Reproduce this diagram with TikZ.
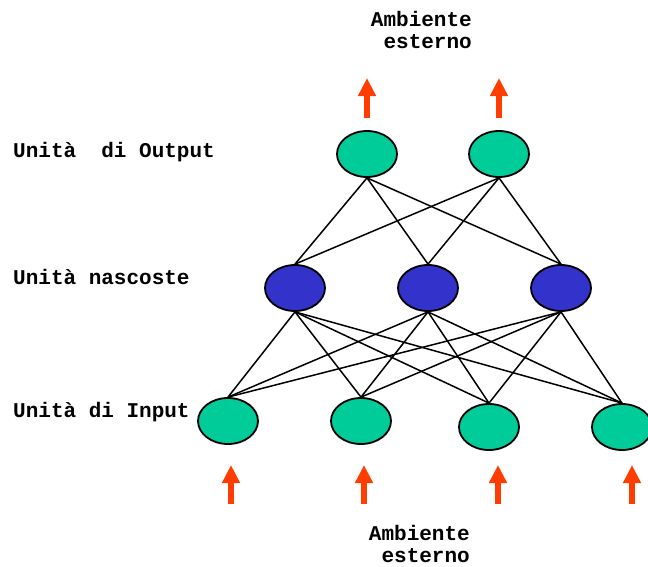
\documentclass[tikz,border=0pt]{standalone}
\usepackage{fontspec}
\setmonofont{Liberation Mono}
\usetikzlibrary{positioning}
\usetikzlibrary{arrows.meta}
\usetikzlibrary{shapes.geometric}
\definecolor{unitgreen}{RGB}{0,204,153}
\definecolor{unitblue}{RGB}{51,51,204}
\definecolor{envred}{RGB}{255,61,0}

\begin{document}
\begin{tikzpicture}[x=1pt, y=-1pt, every node/.style={font=\ttfamily\bfseries\fontsize{21}{21.6}\selectfont, inner sep=0pt},
    unit/.style={ellipse, draw, line width=1.8pt, minimum width=60pt, minimum height=46pt, inner sep=0pt},
    link/.style={line width=1.5pt},
    envarrow/.style={envred, line width=6pt, -{Triangle[length=18pt,width=17pt]}}]
    \useasboundingbox (0,0) rectangle (648,566);

    % units
    \foreach \i/\x in {1/367, 2/499} {
        \node[unit, fill=unitgreen] (o\i) at (\x,154) {};
    }
    \foreach \i/\x in {1/295, 2/428, 3/561} {
        \node[unit, fill=unitblue] (h\i) at (\x,288) {};
    }
    \foreach \i/\x/\y in {1/228/421, 2/361/421, 3/489/427, 4/622/427} {
        \node[unit, fill=unitgreen] (i\i) at (\x,\y) {};
    }

    % connections
    \foreach \o in {1,2} {
        \foreach \h in {1,2,3} {
            \draw[link] (o\o.south) -- (h\h.north);
        }
    }
    \foreach \h in {1,2,3} {
        \foreach \n in {1,...,4} {
            \draw[link] (h\h.south) -- (i\n.north);
        }
    }

    % arrows to and from the environment
    \foreach \i/\x in {1/367, 2/499} {
        \coordinate (ob\i) at (\x,118);
        \coordinate (ot\i) at (\x,78);
        \draw[envarrow] (ob\i) -- (ot\i);
    }
    \foreach \i/\x in {1/231, 2/364, 3/498, 4/632} {
        \coordinate (ib\i) at (\x,504);
        \coordinate (it\i) at (\x,465);
        \draw[envarrow] (ib\i) -- (it\i);
    }

    % labels
    \node[anchor=base west] (lout) at (13,157) {Unità~ di Output};
    \node[anchor=base west] (lhid) at (13,284) {Unità nascoste};
    \node[anchor=base west] (linp) at (13,417) {Unità di Input};
    \node[anchor=base east, align=right] (envtop) at (472,48) {Ambiente\\esterno};
    \node[anchor=base east, align=right] (envbot) at (470,562) {Ambiente\\esterno};
\end{tikzpicture}
\end{document}
